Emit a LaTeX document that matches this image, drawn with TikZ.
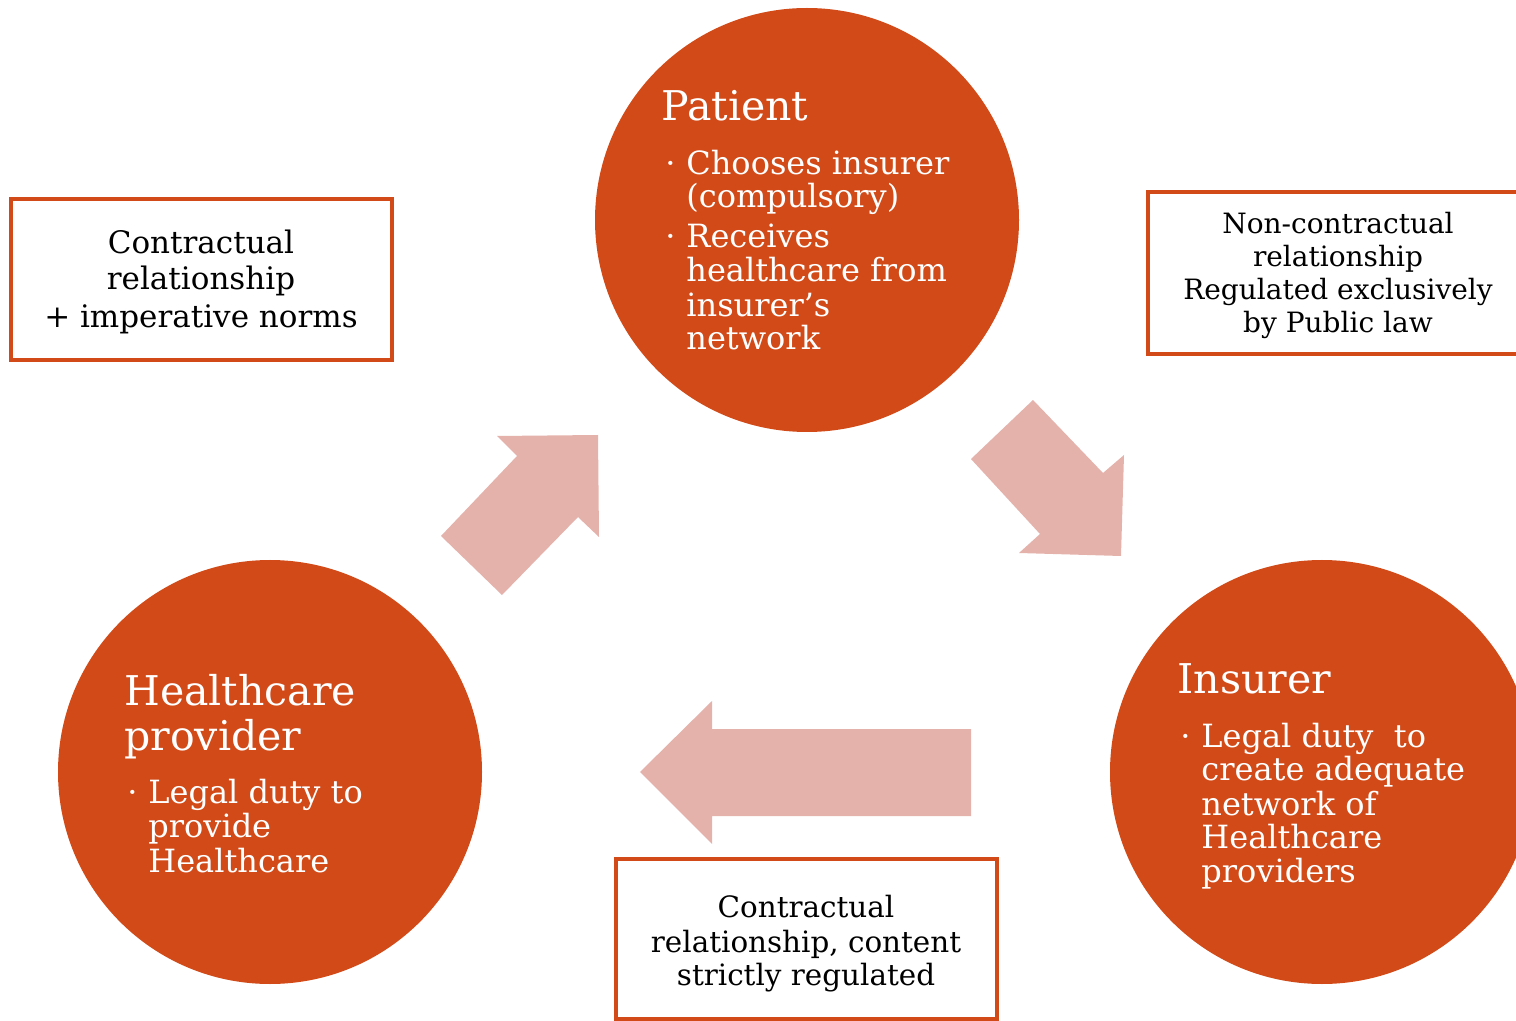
\documentclass[tikz,border=0pt]{standalone}
\usepackage{fontspec}
\setmainfont{DejaVu Serif}
\definecolor{circ}{HTML}{D14A18}
\definecolor{arr}{HTML}{E5B1AB}
\begin{document}
\begin{tikzpicture}[x=0.5pt,y=-0.5pt,
  bigcirc/.style={circle,fill=circ,draw=none,minimum size=212pt,inner sep=0pt},
  ttl/.style={anchor=base west,inner sep=0pt,text=white,font=\fontsize{20.5}{24}\selectfont},
  bl/.style={anchor=base west,inner sep=0pt,text=white,font=\fontsize{16}{19}\selectfont},
  dotx/.style={anchor=base west,inner sep=0pt,text=white,font=\fontsize{16}{19}\selectfont},
  boxln/.style={anchor=base,inner sep=0pt,text=black},
  relbox/.style={draw=circ,line width=1.6pt,fill=white},
  blockarrow/.style={fill=arr,draw=none}]
\useasboundingbox (0,0) rectangle (1516,1021);
\clip (0,0) rectangle (1516,1021);
\fill[white] (0,0) rectangle (1516,1021);

% circles
\node[bigcirc] (patient) at (807,220) {};
\node[bigcirc] (provider) at (270,772) {};
\node[bigcirc] (insurer) at (1322,772) {};

% block arrows
\fill[blockarrow] (441,536) -- (517,456) -- (497,436) -- (598,435) -- (599,537) -- (578,517) -- (502,595) -- cycle;
\fill[blockarrow] (1033,400) -- (971,459) -- (1040,534) -- (1019,553) -- (1121,556) -- (1124,455) -- (1103,473) -- cycle;
\fill[blockarrow] (640,772) -- (712,701) -- (712,729) -- (971,729) -- (971,816) -- (712,816) -- (712,844) -- cycle;

% boxes
\draw[relbox] (11,199) rectangle (392,360);
\draw[relbox] (1148,192) rectangle (1530,354);
\draw[relbox] (616,859) rectangle (997,1019);

% Patient text
\node[ttl] (pt) at (661,121) {Patient};
\node[dotx] (pd1) at (665,175) {·};
\node[bl] (p1) at (686,175) {Chooses insurer};
\node[bl] (p2) at (686,208) {(compulsory)};
\node[dotx] (pd2) at (665,248) {·};
\node[bl] (p3) at (686,248) {Receives};
\node[bl] (p4) at (686,282) {healthcare from};
\node[bl] (p5) at (686,317) {insurer’s};
\node[bl] (p6) at (686,350) {network};

% Provider text
\node[ttl] (hpt1) at (124,705) {Healthcare};
\node[ttl] (hpt2) at (124,750) {provider};
\node[dotx] (hd1) at (127,803) {·};
\node[bl] (h1) at (148,803) {Legal duty to};
\node[bl] (h2) at (148,837) {provide};
\node[bl] (h3) at (148,872) {Healthcare};

% Insurer text
\node[ttl] (it) at (1177,693) {Insurer};
\node[dotx] (id1) at (1180,747) {·};
\node[bl] (i1) at (1201,747) {Legal duty\ \ to};
\node[bl] (i2) at (1201,780) {create adequate};
\node[bl] (i3) at (1201,815) {network of};
\node[bl] (i4) at (1201,848) {Healthcare};
\node[bl] (i5) at (1201,882) {providers};

% Left box text
\begin{scope}[every node/.append style={boxln,font=\fontsize{15.5}{18}\selectfont}]
\node (l1) at (201,254) {Contractual};
\node (l2) at (201,290) {relationship};
\node (l3) at (201,328) {+ imperative norms};
\end{scope}

% Right box text
\begin{scope}[every node/.append style={boxln,font=\fontsize{14}{17}\selectfont}]
\node (r1) at (1338,234) {Non-contractual};
\node (r2) at (1338,267) {relationship};
\node (r3) at (1338,300) {Regulated exclusively};
\node (r4) at (1338,333) {by Public law};
\end{scope}

% Bottom box text
\begin{scope}[every node/.append style={boxln,font=\fontsize{14.7}{17}\selectfont}]
\node (b1) at (806,917) {Contractual};
\node (b2) at (806,952) {relationship, content};
\node (b3) at (806,985) {strictly regulated};
\end{scope}
\end{tikzpicture}
\end{document}
